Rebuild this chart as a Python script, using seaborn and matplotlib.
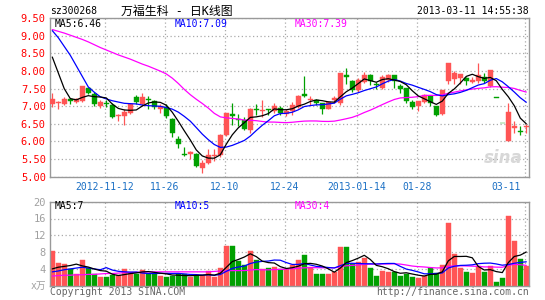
import numpy as np
import pandas as pd
import matplotlib
matplotlib.use("Agg")
import matplotlib.pyplot as plt
import matplotlib.transforms as mtrans
import seaborn as sns

# ---------------- data ----------------
open_ = [7.06, 7.10, 7.06, 7.20, 7.12, 7.15, 7.53, 7.35, 7.00, 7.10,
         7.05, 6.72, 6.72, 6.81, 7.26, 7.06, 7.22, 7.14, 6.93, 6.98,
         6.63, 6.08, 5.65, 5.64, 5.64, 5.24, 5.38, 5.58, 5.61, 6.18,
         6.79, 6.64, 6.62, 6.32, 6.92, 6.87, 6.92, 6.86, 6.95, 6.77,
         6.86, 6.98, 7.34, 7.17, 7.17, 7.08, 6.93, 7.17, 7.09, 7.89,
         7.71, 7.45, 7.69, 7.88, 7.62, 7.52, 7.74, 7.88, 7.59, 7.52,
         7.12, 7.01, 7.12, 7.29, 7.00, 6.79, 7.71, 7.78, 7.80, 7.80,
         7.70, 7.72, 7.83, 7.59, 7.24, 6.52, 6.02, 6.39, 6.31, 6.40]
high = [7.39, 7.15, 7.26, 7.24, 7.24, 7.58, 7.56, 7.40, 7.19, 7.19,
        7.10, 6.79, 6.91, 7.08, 7.31, 7.38, 7.28, 7.17, 7.06, 7.06,
        6.66, 6.17, 5.85, 5.72, 5.68, 5.47, 5.80, 5.78, 6.20, 6.82,
        7.09, 6.77, 6.70, 6.95, 7.06, 7.19, 6.93, 7.08, 7.02, 6.92,
        7.12, 7.31, 7.85, 7.29, 7.22, 7.10, 7.14, 7.29, 7.95, 8.08,
        7.75, 7.80, 7.98, 7.92, 7.69, 7.88, 7.91, 7.88, 7.62, 7.52,
        7.17, 7.14, 7.35, 7.31, 7.00, 7.45, 8.23, 8.01, 7.93, 7.83,
        7.82, 8.22, 7.95, 8.04, 7.24, 6.52, 7.10, 6.58, 6.44, 6.51]
low = [6.98, 6.93, 7.03, 7.06, 7.09, 7.12, 7.35, 7.00, 6.95, 6.98,
       6.67, 6.58, 6.48, 6.78, 7.06, 7.00, 6.93, 6.91, 6.81, 6.68,
       6.13, 5.82, 5.59, 5.49, 5.27, 5.11, 5.36, 5.45, 5.57, 6.15,
       6.46, 6.43, 6.32, 6.25, 6.75, 6.70, 6.75, 6.80, 6.76, 6.72,
       6.76, 6.95, 7.26, 7.03, 7.03, 6.78, 6.92, 7.08, 7.04, 7.64,
       7.42, 7.42, 7.65, 7.60, 7.50, 7.48, 7.70, 7.53, 7.38, 7.08,
       6.92, 6.87, 7.08, 7.00, 6.72, 6.76, 7.62, 7.63, 7.62, 7.60,
       7.66, 7.66, 7.65, 7.55, 7.24, 6.52, 6.00, 6.25, 6.18, 6.23]
close = [7.22, 7.13, 7.20, 7.16, 7.20, 7.57, 7.38, 7.06, 7.11, 7.07,
         6.70, 6.76, 6.84, 7.06, 7.12, 7.26, 7.19, 6.99, 7.00, 6.72,
         6.25, 5.92, 5.63, 5.70, 5.30, 5.40, 5.61, 5.62, 6.18, 6.81,
         6.73, 6.60, 6.35, 6.93, 6.89, 6.89, 6.90, 7.02, 6.82, 6.88,
         7.03, 7.29, 7.28, 7.20, 7.10, 6.93, 7.12, 7.24, 7.95, 7.83,
         7.45, 7.76, 7.90, 7.71, 7.60, 7.83, 7.88, 7.71, 7.50, 7.14,
         6.98, 7.14, 7.31, 7.08, 6.76, 7.45, 8.23, 7.95, 7.91, 7.71,
         7.75, 7.89, 7.71, 8.04, 7.24, 6.52, 6.85, 6.43, 6.28, 6.43]
volume = [8.2, 5.5, 5.2, 4.0, 2.8, 6.1, 4.1, 2.9, 2.1, 2.1,
          2.5, 2.5, 4.0, 3.3, 2.9, 3.7, 2.9, 3.1, 2.3, 2.1,
          2.3, 2.7, 2.7, 2.1, 2.5, 2.5, 3.5, 2.0, 4.3, 9.5,
          9.4, 6.0, 4.9, 8.2, 6.1, 4.0, 4.3, 4.4, 3.9, 3.9,
          4.9, 6.1, 7.3, 4.4, 2.8, 2.8, 2.8, 3.3, 9.3, 9.3,
          5.2, 5.7, 6.7, 4.3, 2.3, 3.6, 3.3, 3.3, 2.3, 2.9,
          2.1, 1.9, 2.3, 4.3, 3.1, 4.9, 15.0, 7.5, 4.3, 3.3,
          3.1, 4.7, 3.3, 4.7, 1.0, 1.9, 16.6, 10.6, 6.3, 4.7]

# moving-average values before a full window is available
ma5_head = [8.40, 7.95, 7.50, 7.22]
ma10_head = [9.15, 8.95, 8.70, 8.45, 8.15, 7.85, 7.55, 7.40, 7.27]
ma30_head = [9.18, 9.13, 9.08, 9.02, 8.96, 8.90, 8.83, 8.75, 8.67, 8.60,
             8.53, 8.46, 8.40, 8.34, 8.27, 8.20, 8.14, 8.07, 8.00, 7.92,
             7.80, 7.65, 7.48, 7.33, 7.20, 7.08, 6.95, 6.80, 6.70]
vol_ma5_head = [4.0, 4.4, 4.6, 4.8]
vol_ma10_head = [3.3, 3.5, 3.8, 4.0, 4.2, 4.4, 4.2, 4.0, 3.8]
vol_ma30_head = [2.3, 2.4, 2.5, 2.5, 2.6, 2.6, 2.7, 2.7, 2.8, 2.9,
                 2.9, 3.0, 3.1, 3.1, 3.2, 3.2, 3.3, 3.3, 3.3, 3.3,
                 3.3, 3.3, 3.3, 3.3, 3.3, 3.3, 3.3, 3.4, 3.5]

tick_pos = [9, 19, 29, 39, 51, 61, 79]
tick_labels = ["2012-11-12", "11-26", "12-10", "12-24", "2013-01-14", "01-28", "03-11"]
price_ticks = [5.0, 5.5, 6.0, 6.5, 7.0, 7.5, 8.0, 8.5, 9.0, 9.5]
vol_ticks = [4, 8, 12, 16, 20]

title_code = "sz300268"
title_name = "万福生科 - 日K线图"
timestamp = "2013-03-11 14:55:38"
price_legend = ["MA5:6.46", "MA10:7.09", "MA30:7.39"]
vol_legend = ["MA5:7", "MA10:5", "MA30:4"]
vol_unit = "x万"
copyright_txt = "Copyright 2013 SINA.COM"
url_txt = "http://finance.sina.com.cn"

# ---------------- helpers ----------------
def moving_avg(values, n, head):
    s = pd.Series(values, dtype=float).rolling(n).mean()
    s.iloc[:n - 1] = head
    return s.values

idx = np.arange(len(close))
o = np.array(open_); c = np.array(close); h = np.array(high); l = np.array(low)
prev_c = np.concatenate([[c[0]], c[:-1]])
up = (c > o) | ((c == o) & (c >= prev_c))

ma5 = moving_avg(close, 5, ma5_head)
ma10 = moving_avg(close, 10, ma10_head)
ma30 = moving_avg(close, 30, ma30_head)
vma5 = moving_avg(volume, 5, vol_ma5_head)
vma10 = moving_avg(volume, 10, vol_ma10_head)
vma30 = moving_avg(volume, 30, vol_ma30_head)

# ---------------- styling ----------------
sns.set_style("white")
plt.rcParams["font.family"] = ["DejaVu Sans Mono", "Noto Sans CJK SC"]

RED = "#ff5555"
GREEN = "#00a000"
BLUE = "#0000ff"
MAG = "#ff00ff"
FRAME = "#999999"
GRID = "#aaaaaa"
XLAB = "#1a6fc4"
MONO = 7

W, H = 545, 300
fig = plt.figure(figsize=(W / 100, H / 100), dpi=100)
fig.patch.set_facecolor("white")

left_px, right_px = 50, 529.3
ax_p = fig.add_axes([left_px / W, 1 - 176.7 / H, (right_px - left_px) / W, (176.7 - 18.3) / H])
ax_v = fig.add_axes([left_px / W, 1 - 285.7 / H, (right_px - left_px) / W, (285.7 - 201.7) / H])

xlim = (-0.38, 79.5)
grid_shift = -0.25
dotted = (0, (1, 2))

for ax in (ax_p, ax_v):
    ax.set_xlim(*xlim)
    ax.set_facecolor("white")
    for sp in ax.spines.values():
        sp.set_color(FRAME)
        sp.set_linewidth(1.0)
        sp.set_visible(True)
    ax.set_xticks([t + grid_shift for t in tick_pos])
    ax.set_xticklabels([])
    ax.tick_params(axis="both", length=0)
    ax.grid(True, color=GRID, linestyle=dotted, linewidth=0.9)
    ax.set_axisbelow(True)

# ---------------- price panel ----------------
ax_p.set_ylim(5.0, 9.5)
ax_p.set_yticks(price_ticks)
ax_p.set_yticklabels([f"{v:.2f}" for v in price_ticks], color="red",
                     fontsize=MONO + 0.5, family="DejaVu Sans Mono")
ax_p.tick_params(axis="y", pad=3)

colors = np.where(up, RED, GREEN)
ax_p.vlines(idx, l, h, colors=colors, linewidth=0.9, zorder=2)
body_bottom = np.minimum(o, c)
body_h = np.maximum(np.abs(c - o), 0.012)
ax_p.bar(idx, body_h, bottom=body_bottom, width=0.8, color=colors,
         edgecolor=colors, linewidth=0.3, zorder=3)

line_df = pd.DataFrame({"idx": idx, "MA5": ma5, "MA10": ma10, "MA30": ma30})
for name, col in (("MA30", MAG), ("MA10", BLUE), ("MA5", "black")):
    sns.lineplot(data=line_df, x="idx", y=name, ax=ax_p, color=col,
                 linewidth=0.9, estimator=None, sort=False, zorder=4)
ax_p.set_xlabel(""); ax_p.set_ylabel("")

# watermark
ax_p.text(0.985, 0.12, "sina", transform=ax_p.transAxes, ha="right", va="center",
          fontsize=12, fontstyle="italic", fontweight="bold", color="#d8d8d8",
          family="DejaVu Sans", zorder=1)

# legends inside the price panel
leg_x_px = [55, 175, 295]
for txt, col, xp in zip(price_legend, ["black", BLUE, MAG], leg_x_px):
    fig.text(xp / W, 1 - 24 / H, txt, color=col, fontsize=MONO, ha="left", va="center",
             family="DejaVu Sans Mono")

# x tick labels
trans = mtrans.blended_transform_factory(ax_p.transData, fig.transFigure)
for i, (pos, lab) in enumerate(zip(tick_pos, tick_labels)):
    if i == len(tick_pos) - 1:
        ax_p.text(pos + grid_shift - 0.6, 1 - 186.5 / H, lab, transform=trans,
                  ha="right", va="center", color=XLAB, fontsize=MONO,
                  family="DejaVu Sans Mono")
    else:
        ax_p.text(pos + grid_shift, 1 - 186.5 / H, lab, transform=trans,
                  ha="center", va="center", color=XLAB, fontsize=MONO,
                  family="DejaVu Sans Mono")

# ---------------- volume panel ----------------
ax_v.set_ylim(0, 20)
ax_v.set_yticks(vol_ticks)
ax_v.set_yticklabels([str(v) for v in vol_ticks], color="#a0a0a0",
                     fontsize=MONO + 0.5, family="DejaVu Sans Mono")
ax_v.tick_params(axis="y", pad=3)
ax_v.bar(idx, volume, width=0.8, color=colors, edgecolor=colors, linewidth=0.3, zorder=2)

vol_df = pd.DataFrame({"idx": idx, "MA5": vma5, "MA10": vma10, "MA30": vma30})
for name, col in (("MA30", MAG), ("MA10", BLUE), ("MA5", "black")):
    sns.lineplot(data=vol_df, x="idx", y=name, ax=ax_v, color=col,
                 linewidth=0.9, estimator=None, sort=False, zorder=4)
ax_v.set_xlabel(""); ax_v.set_ylabel("")

for txt, col, xp in zip(vol_legend, ["black", BLUE, MAG], leg_x_px):
    fig.text(xp / W, 1 - 206 / H, txt, color=col, fontsize=MONO, ha="left", va="center",
             family="DejaVu Sans Mono")

fig.text(46 / W, 1 - 286 / H, vol_unit, color="#a0a0a0", fontsize=MONO, ha="right",
         va="center", family=["DejaVu Sans Mono", "Noto Sans CJK SC"])

# ---------------- header & footer ----------------
fig.text(50 / W, 1 - 11 / H, title_code, fontsize=MONO, ha="left", va="center",
         family="DejaVu Sans Mono", color="black")
fig.text(121 / W, 1 - 11 / H, title_name, fontsize=8.6, ha="left", va="center",
         family=["DejaVu Sans Mono", "Noto Sans CJK SC"], color="black")
fig.text(529 / W, 1 - 11 / H, timestamp, fontsize=MONO, ha="right", va="center",
         family="DejaVu Sans Mono", color="black")
fig.text(50 / W, 1 - 292 / H, copyright_txt, fontsize=MONO, ha="left", va="center",
         family="DejaVu Sans Mono", color="#666666")
fig.text(529 / W, 1 - 292 / H, url_txt, fontsize=MONO, ha="right", va="center",
         family="DejaVu Sans Mono", color="#666666")

fig.savefig("out.png", dpi=100, facecolor="white")
